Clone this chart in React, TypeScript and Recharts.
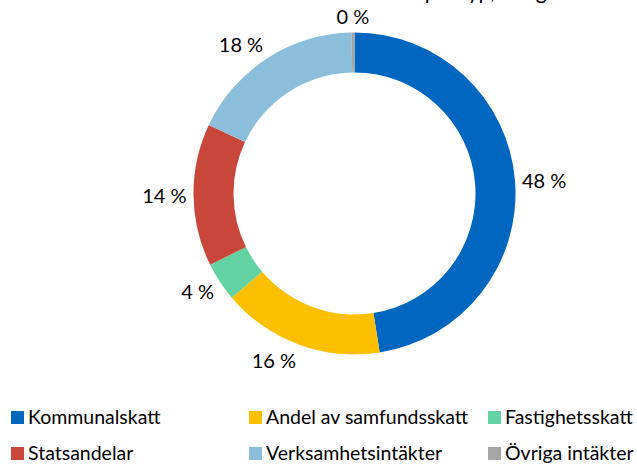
import { Cell, Legend, Pie, PieChart } from "recharts"

const categories = [
  "Kommunalskatt",
  "Andel av samfundsskatt",
  "Fastighetsskatt",
  "Statsandelar",
  "Verksamhetsintäkter",
  "Övriga intäkter",
]
const shares = [47.5, 16.3, 3.9, 14.3, 17.7, 0.3]
const shareLabels = ["48 %", "16 %", "4 %", "14 %", "18 %", "0 %"]
const colors = ["#0066BF", "#FCC000", "#62D2A2", "#C8463A", "#8BBEDB", "#A5A5A5"]

const FONT = "Lato, 'Open Sans', sans-serif"
const RAD = Math.PI / 180

const data = categories.map((name, i) => ({ name, value: shares[i], label: shareLabels[i] }))

// Excel-style outside labels: anchored by side, pushed out a bit above/below
function renderLabel(props: any) {
  const { cx, cy, midAngle, outerRadius, index } = props
  const r = outerRadius + 7
  const sin = Math.cos(-midAngle * RAD)
  const cos = Math.sin(-midAngle * RAD)
  const x = cx + r * sin
  const y = cy + r * cos
  const anchor = Math.abs(sin) < 0.1 ? "middle" : sin > 0 ? "start" : "end"
  return (
    <text
      x={x}
      y={y + cos * 10}
      textAnchor={anchor}
      dominantBaseline="central"
      fill="#000"
      fontSize={20}
      fontFamily={FONT}
    >
      {data[index].label}
    </text>
  )
}

const colX = [11, 249, 488]

function LegendGrid() {
  return (
    <div style={{ position: "relative", width: 637, height: 60 }}>
      {categories.map((c, i) => (
        <div
          key={c}
          style={{
            position: "absolute",
            left: colX[i % 3],
            top: i < 3 ? 0 : 36,
            display: "flex",
            alignItems: "center",
            fontFamily: FONT,
            fontSize: 19.5,
            lineHeight: "20px",
            color: "#000",
            whiteSpace: "nowrap",
          }}
        >
          <span
            style={{ width: 13, height: 13, background: colors[i], marginRight: 4, display: "inline-block" }}
          />
          {c}
        </div>
      ))}
    </div>
  )
}

export default function App() {
  return (
    <div style={{ position: "absolute", left: 0, top: 0, width: 637, height: 464, overflow: "hidden", background: "#fff" }}>
      <PieChart width={637} height={464} margin={{ top: 0, right: 0, bottom: 0, left: 0 }}>
        <text x={565} y={-1} textAnchor="end" fontSize={21} fontFamily={FONT} fill="#000">
          Verksamhetens intäkter per typ, budget
        </text>
        <Pie
          data={data}
          dataKey="value"
          nameKey="name"
          cx={354.5}
          cy={193.5}
          innerRadius={121}
          outerRadius={161}
          startAngle={90}
          endAngle={-270}
          stroke="none"
          label={renderLabel}
          labelLine={false}
          isAnimationActive={false}
        >
          {data.map((d, i) => (
            <Cell key={d.name} fill={colors[i]} />
          ))}
        </Pie>
        <Legend
          content={() => <LegendGrid />}
          wrapperStyle={{ position: "absolute", left: 0, top: 407, width: 637 }}
        />
      </PieChart>
    </div>
  )
}
